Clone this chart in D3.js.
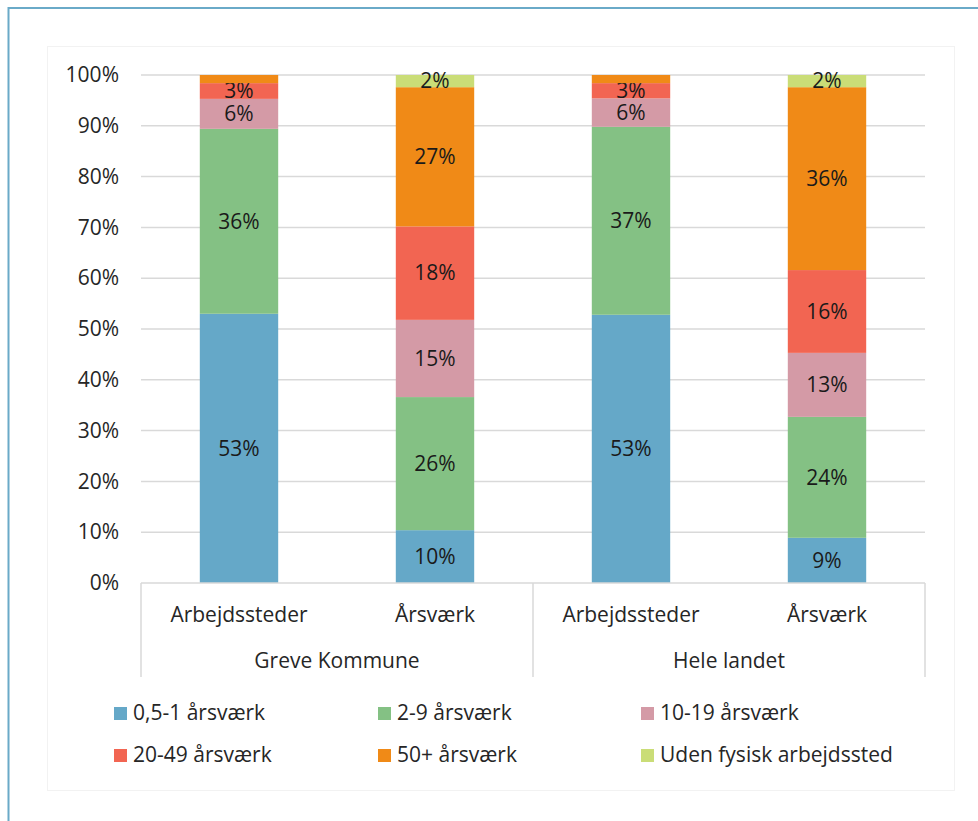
<!DOCTYPE html>
<html>
<head>
<meta charset="utf-8">
<script src="https://cdn.jsdelivr.net/npm/d3@7"></script>
<style>
  body { margin: 0; background: #fff; }
  svg { display: block; font-family: "Open Sans", "Noto Sans", sans-serif; }
</style>
</head>
<body>
<div id="chart"></div>
<script>
// categories (group, bar)
var groups = ["Greve Kommune", "Hele landet"];
var bars = ["Arbejdssteder", "Årsværk"];
var series = ["0,5-1 årsværk", "2-9 årsværk", "10-19 årsværk", "20-49 årsværk", "50+ årsværk", "Uden fysisk arbejdssted"];
var colors = ["#65a8c8", "#84c184", "#d49aa6", "#f26552", "#f08a17", "#cadd77"];

// percent shares, one array per bar, in series order
var greveArb = [53.0, 36.4, 5.9, 3.1, 1.6, 0];
var greveAars = [10.4, 26.2, 15.2, 18.4, 27.4, 2.4];
var heleArb = [52.8, 37.0, 5.6, 3.0, 1.6, 0];
var heleAars = [8.9, 23.8, 12.6, 16.3, 36.0, 2.4];

var yTicks = [0, 10, 20, 30, 40, 50, 60, 70, 80, 90, 100];

var valueSets = [greveArb, greveAars, heleArb, heleAars];
var rows = valueSets.map(function (vals, i) {
	var r = { key: "k" + i, group: groups[Math.floor(i / 2)], bar: bars[i % 2] };
	series.forEach(function (s, j) { r[s] = vals[j]; });
	return r;
});

var W = 978, H = 821;
var fs = 21;
var svg = d3.select("#chart").append("svg")
	.attr("width", W)
	.attr("height", H);

// outer blue frame (cut off at right and bottom) and inner chart area
svg.append("rect")
	.attr("x", 8.5).attr("y", 8)
	.attr("width", W + 20).attr("height", H + 20)
	.attr("fill", "none")
	.attr("stroke", "#6aaac8")
	.attr("stroke-width", 2);

svg.append("rect")
	.attr("x", 47.5).attr("y", 46.5)
	.attr("width", 907).attr("height", 744)
	.attr("fill", "#fff")
	.attr("stroke", "#f2f2f2");

var plotL = 141, plotR = 925, plotT = 75, plotB = 583;

var x = d3.scaleBand()
	.domain(rows.map(function (d) { return d.key; }))
	.range([plotL, plotR])
	.paddingInner(0.6)
	.paddingOuter(0.3);

var y = d3.scaleLinear()
	.domain([0, 100])
	.range([plotB, plotT]);

// gridlines
svg.append("g")
	.selectAll("line")
	.data(yTicks.filter(function (t) { return t > 0; }))
	.enter()
	.append("line")
	.attr("x1", plotL).attr("x2", plotR)
	.attr("y1", function (d) { return y(d); })
	.attr("y2", function (d) { return y(d); })
	.attr("stroke", "#d9d9d9")
	.attr("stroke-width", 1.5);

// y axis labels
var yAxis = svg.append("g")
	.attr("transform", "translate(" + (plotL - 22) + ",0)")
	.call(d3.axisLeft(y).tickValues(yTicks).tickSize(0).tickPadding(0)
		.tickFormat(function (d) { return d + "%"; }));
yAxis.select(".domain").remove();
yAxis.selectAll("text")
	.attr("font-size", fs)
	.attr("font-family", "Open Sans, Noto Sans, sans-serif")
	.attr("fill", "#262626");

// stacked bars
var stack = d3.stack().keys(series);
var layers = stack(rows);

var layer = svg.append("g")
	.selectAll("g")
	.data(layers)
	.enter()
	.append("g")
	.attr("fill", function (d, i) { return colors[i]; });

layer.selectAll("rect")
	.data(function (d) { return d; })
	.enter()
	.append("rect")
	.attr("x", function (d) { return x(d.data.key); })
	.attr("y", function (d) { return y(d[1]); })
	.attr("width", x.bandwidth())
	.attr("height", function (d) { return y(d[0]) - y(d[1]); });

layer.selectAll("text")
	.data(function (d) { return d.filter(function (p) { return p[1] - p[0] >= 2; }); })
	.enter()
	.append("text")
	.attr("x", function (d) { return x(d.data.key) + x.bandwidth() / 2; })
	.attr("y", function (d) { return (y(d[0]) + y(d[1])) / 2; })
	.attr("dy", "0.35em")
	.attr("text-anchor", "middle")
	.attr("font-size", fs)
	.attr("fill", "#1a1a1a")
	.text(function (d) { return Math.round(d[1] - d[0]) + "%"; });

// x axis: baseline, category labels, group labels and separators
var axisCol = "#d9d9d9";
svg.append("line")
	.attr("x1", plotL).attr("x2", plotR)
	.attr("y1", plotB).attr("y2", plotB)
	.attr("stroke", axisCol).attr("stroke-width", 1.5);

var sepX = [plotL, x("k2") - (x.step() - x.bandwidth()) / 2, plotR];
svg.append("g")
	.selectAll("line")
	.data(sepX)
	.enter()
	.append("line")
	.attr("x1", function (d) { return d; })
	.attr("x2", function (d) { return d; })
	.attr("y1", plotB).attr("y2", 677)
	.attr("stroke", axisCol).attr("stroke-width", 1.5);

svg.append("g")
	.selectAll("text")
	.data(rows)
	.enter()
	.append("text")
	.attr("x", function (d) { return x(d.key) + x.bandwidth() / 2; })
	.attr("y", 622)
	.attr("text-anchor", "middle")
	.attr("font-size", fs)
	.attr("fill", "#262626")
	.text(function (d) { return d.bar; });

svg.append("g")
	.selectAll("text")
	.data(groups)
	.enter()
	.append("text")
	.attr("x", function (d, i) { return (sepX[i] + sepX[i + 1]) / 2; })
	.attr("y", 668)
	.attr("text-anchor", "middle")
	.attr("font-size", fs)
	.attr("fill", "#262626")
	.text(function (d) { return d; });

// legend, 3 columns x 2 rows
var legCols = [114, 378, 641];
var legRows = [713, 755];
var leg = svg.append("g")
	.selectAll("g")
	.data(series)
	.enter()
	.append("g")
	.attr("transform", function (d, i) {
		return "translate(" + legCols[i % 3] + "," + legRows[Math.floor(i / 3)] + ")";
	});

leg.append("rect")
	.attr("x", 0).attr("y", -6)
	.attr("width", 13).attr("height", 13)
	.attr("fill", function (d, i) { return colors[i]; });

leg.append("text")
	.attr("x", 19)
	.attr("y", 0)
	.attr("dy", "0.35em")
	.attr("font-size", fs)
	.attr("fill", "#262626")
	.text(function (d) { return d; });
</script>
</body>
</html>
